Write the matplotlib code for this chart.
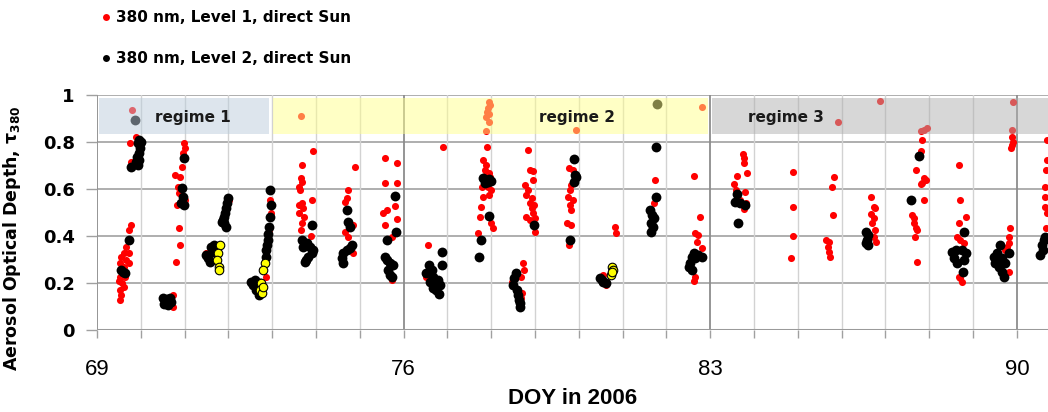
import matplotlib
matplotlib.use("Agg")
import matplotlib.pyplot as plt
from matplotlib.lines import Line2D
from matplotlib.patches import Rectangle
from matplotlib.ticker import MultipleLocator, FixedLocator

# ---------------- data ----------------
# Level 1 (cloud-screened) AOD at 380 nm, direct Sun: day of year and value
doy_l1 = [
    69.78, 69.72, 69.67, 69.61, 69.72, 69.555, 69.67, 69.52, 69.61, 69.72, 69.535, 69.58, 69.52,
    69.555, 69.61, 69.535, 69.63, 69.50, 69.56,
    69.745, 69.78, 69.90, 69.80, 69.86,
    70.73, 70.74,
    70.98, 71.00, 70.96, 70.95, 70.79, 70.886, 70.85, 70.87, 70.825, 70.87, 70.886, 70.81, 71.00,
    71.49, 72.01,
    72.94, 72.92, 72.98, 72.86,
    73.65,
    73.92, 73.67, 73.65, 73.67, 73.60, 73.64, 73.90, 73.60, 73.67, 73.71, 73.62, 73.73, 73.67,
    73.65, 73.88,
    74.89, 74.74, 74.70, 74.66, 74.85, 74.66, 74.74, 74.84,
    75.57, 75.84, 75.57, 75.855, 75.80, 75.61, 75.54, 75.84, 75.57, 75.73, 75.73,
    76.90, 76.56, 76.52,
    77.95, 77.98, 77.92, 77.90, 77.95, 77.885, 77.95, 77.885,
    77.90, 77.82, 77.87, 77.85, 77.885, 77.79, 77.92, 78.00, 77.81, 77.96, 77.77, 78.00, 78.04,
    77.75, 77.695, 77.95, 77.98,
    78.725, 78.74, 78.69, 78.48, 78.71, 78.69,
    78.84, 78.88, 78.95, 78.95, 78.76, 78.84, 78.80, 78.94, 78.88, 78.97, 78.92, 78.80, 78.99,
    78.88, 79.01, 78.95,
    79.93, 79.78, 79.87, 79.83, 79.79, 79.76, 79.87, 79.79, 79.83, 79.73, 79.83, 79.78,
    80.82, 80.85, 80.56, 80.63,
    81.73, 81.71,
    82.82, 82.62, 82.76, 82.66, 82.73, 82.70, 82.81, 82.66, 82.64,
    83.74, 83.77, 83.76, 83.83, 83.62, 83.55, 83.80, 83.59, 83.82, 83.76, 83.68,
    84.88, 84.89, 84.88, 84.84,
    85.91, 85.82, 85.77, 85.80, 85.64, 85.72, 85.68, 85.70, 85.74,
    86.88, 86.68, 86.73, 86.76, 86.67, 86.73, 86.70, 86.76, 86.73, 86.78,
    87.80, 87.94, 87.88, 87.84, 87.82, 87.69, 87.88, 87.92, 87.80, 87.84, 87.88, 87.61, 87.65,
    87.64, 87.69, 87.73, 87.67, 87.71,
    88.67, 88.71, 88.83, 88.67, 88.64, 88.71, 88.79, 88.67, 88.75, 88.71,
    89.92, 89.89, 89.89, 89.91, 89.89, 89.86, 89.85, 89.83, 89.81, 89.77, 89.73, 89.81,
    90.68, 90.68, 90.67, 90.65, 90.65, 90.65, 90.68, 90.67,
]
aod_l1 = [
    0.447, 0.426, 0.355, 0.326, 0.326, 0.312, 0.298, 0.284, 0.270, 0.284, 0.227, 0.199, 0.170,
    0.149, 0.184, 0.128, 0.227, 0.210, 0.260,
    0.794, 0.716, 0.823, 0.936, 0.900,
    0.149, 0.099,
    0.794, 0.773, 0.752, 0.695, 0.660, 0.650, 0.610, 0.582, 0.532, 0.433, 0.362, 0.291, 0.553,
    0.326, 0.553,
    0.553, 0.426, 0.496, 0.227,
    0.910,
    0.763, 0.702, 0.645, 0.631, 0.610, 0.596, 0.553, 0.532, 0.539, 0.518, 0.496, 0.482, 0.454,
    0.426, 0.400,
    0.692, 0.596, 0.560, 0.546, 0.447, 0.418, 0.397, 0.326,
    0.730, 0.712, 0.627, 0.624, 0.528, 0.511, 0.496, 0.471, 0.447, 0.397, 0.213,
    0.777, 0.362, 0.227,
    0.972, 0.957, 0.943, 0.929, 0.919, 0.908, 0.887, 0.848,
    0.780, 0.723, 0.702, 0.681, 0.660, 0.610, 0.610, 0.596, 0.567, 0.574, 0.525, 0.454, 0.433,
    0.482, 0.414, 0.667, 0.652,
    0.284, 0.255, 0.227, 0.206, 0.156, 0.135,
    0.766, 0.681, 0.678, 0.638, 0.617, 0.596, 0.574, 0.560, 0.539, 0.532, 0.518, 0.482, 0.475,
    0.468, 0.418, 0.500,
    0.851, 0.688, 0.681, 0.617, 0.596, 0.567, 0.553, 0.532, 0.511, 0.454, 0.447, 0.362,
    0.440, 0.411, 0.234, 0.191,
    0.638, 0.539,
    0.948, 0.657, 0.479, 0.411, 0.404, 0.376, 0.348, 0.227, 0.210,
    0.749, 0.730, 0.712, 0.670, 0.655, 0.621, 0.589, 0.596, 0.539, 0.513, 0.553,
    0.671, 0.522, 0.400, 0.305,
    0.887, 0.652, 0.610, 0.489, 0.383, 0.376, 0.355, 0.333, 0.312,
    0.976, 0.567, 0.522, 0.518, 0.494, 0.475, 0.454, 0.426, 0.397, 0.376,
    0.848, 0.858, 0.852, 0.809, 0.763, 0.681, 0.645, 0.638, 0.621, 0.627, 0.553, 0.489, 0.475,
    0.454, 0.433, 0.426, 0.397, 0.291,
    0.702, 0.553, 0.482, 0.454, 0.397, 0.383, 0.369, 0.227, 0.206, 0.220,
    0.972, 0.851, 0.823, 0.801, 0.787, 0.773, 0.433, 0.397, 0.369, 0.355, 0.340, 0.248,
    0.809, 0.723, 0.681, 0.610, 0.567, 0.525, 0.496, 0.433,
]

# Level 2 (quality-assured) AOD at 380 nm, direct Sun
doy_l2 = [
    69.555, 69.63, 69.72, 69.60,
    69.97, 69.935, 69.99, 69.96, 69.91, 69.97, 69.90, 69.78, 69.935, 70.01, 69.86,
    70.506, 70.58, 70.62, 70.54, 70.66, 70.70, 70.60,
    70.98, 70.95, 70.96, 70.92, 70.98,
    71.53, 71.61, 71.65, 71.49, 71.57, 71.68,
    71.99, 71.97, 71.95, 71.93, 71.91, 71.875, 71.91, 71.95, 71.86,
    72.94, 72.98, 72.94, 72.90, 72.88, 72.86, 72.85, 72.52, 72.56, 72.635, 72.70, 72.60, 72.71,
    72.92, 72.90,
    73.67, 73.79, 73.86, 73.90, 73.825, 73.77, 73.75, 73.90, 73.71, 73.94,
    74.70, 74.74, 74.775, 74.81, 74.775, 74.70, 74.62, 74.585, 74.62,
    75.80, 75.825, 75.61, 75.57, 75.61, 75.69, 75.76, 75.65, 75.69, 75.73,
    76.88, 76.87, 76.59, 76.52, 76.64, 76.68, 76.60, 76.71, 76.79, 76.83, 76.75, 76.81, 76.66,
    77.81, 77.885, 77.96, 78.00, 77.85, 77.92, 77.96, 77.77, 77.73,
    78.57, 78.53, 78.50, 78.59, 78.61, 78.63, 78.65, 78.66,
    78.97,
    79.89, 79.91, 79.93, 79.89, 79.79,
    80.48, 80.52, 80.56, 80.63,
    81.77, 81.75, 81.62, 81.67, 81.71, 81.64, 81.70, 81.65, 81.79,
    82.62, 82.58, 82.73, 82.81, 82.545, 82.51, 82.58, 82.66,
    83.61, 83.57, 83.68, 83.80, 83.64,
    86.55, 86.59, 86.58, 86.55, 86.59,
    87.765, 87.58,
    88.80, 88.52, 88.60, 88.75, 88.83, 88.56, 88.64, 88.79, 88.77,
    89.62, 89.545, 89.47, 89.66, 89.81, 89.51, 89.58, 89.73, 89.66, 89.70, 89.62,
    90.53, 90.57, 90.61, 90.65, 90.59,
]
aod_l2 = [
    0.255, 0.241, 0.383, 0.248,
    0.809, 0.794, 0.773, 0.752, 0.738, 0.723, 0.716, 0.692, 0.702, 0.800, 0.894,
    0.135, 0.120, 0.106, 0.110, 0.135, 0.120, 0.130,
    0.730, 0.603, 0.567, 0.539, 0.532,
    0.305, 0.355, 0.333, 0.319, 0.291, 0.360,
    0.560, 0.539, 0.518, 0.496, 0.482, 0.468, 0.454, 0.440, 0.461,
    0.596, 0.532, 0.482, 0.383, 0.362, 0.340, 0.312, 0.206, 0.191, 0.170, 0.149, 0.213, 0.199,
    0.440, 0.410,
    0.383, 0.369, 0.355, 0.326, 0.312, 0.298, 0.291, 0.447, 0.355, 0.340,
    0.511, 0.461, 0.440, 0.362, 0.348, 0.340, 0.326, 0.305, 0.284,
    0.570, 0.418, 0.383, 0.312, 0.298, 0.284, 0.277, 0.255, 0.234, 0.227,
    0.333, 0.277, 0.277, 0.241, 0.255, 0.227, 0.206, 0.199, 0.213, 0.191, 0.170, 0.153, 0.177,
    0.645, 0.638, 0.641, 0.635, 0.627, 0.631, 0.485, 0.383, 0.312,
    0.241, 0.220, 0.191, 0.170, 0.149, 0.128, 0.113, 0.096,
    0.447,
    0.728, 0.660, 0.650, 0.631, 0.383,
    0.220, 0.213, 0.206, 0.199,
    0.777, 0.565, 0.511, 0.489, 0.475, 0.454, 0.440, 0.418, 0.962,
    0.326, 0.312, 0.319, 0.312, 0.284, 0.270, 0.255, 0.305,
    0.579, 0.546, 0.539, 0.532, 0.457,
    0.418, 0.404, 0.383, 0.369, 0.362,
    0.742, 0.553,
    0.418, 0.333, 0.340, 0.340, 0.326, 0.305, 0.284, 0.298, 0.248,
    0.362, 0.326, 0.312, 0.305, 0.326, 0.284, 0.270, 0.284, 0.248, 0.227, 0.277,
    0.319, 0.362, 0.383, 0.397, 0.340,
]

# Highlighted Level 2 points
doy_hl = [71.81, 71.76, 71.74, 71.78, 71.79,
          72.83, 72.79, 72.75, 72.73, 72.77, 72.79,
          80.75, 80.77, 80.73, 80.76]
aod_hl = [0.362, 0.326, 0.298, 0.270, 0.255,
          0.284, 0.255, 0.199, 0.170, 0.156, 0.184,
          0.270, 0.255, 0.234, 0.248]

# Aerosol regimes (start / end day of year)
regime_names = ["regime 1", "regime 2", "regime 3"]
regime_start = [69.05, 73.02, 83.04]
regime_end = [72.93, 82.95, 91.0]
regime_label_x = [71.2, 79.95, 84.73]

series_labels = ["380 nm, Level 1, direct Sun", "380 nm, Level 2, direct Sun"]
x_major = [69, 76, 83, 90]
y_ticks = [0, 0.2, 0.4, 0.6, 0.8, 1]
y_ticklabels = ["0", "0.2", "0.4", "0.6", "0.8", "1"]

# ---------------- figure ----------------
W, H = 1048, 412
fig = plt.figure(figsize=(W / 100, H / 100), dpi=100)
ax = fig.add_axes([97 / W, 82 / H, 951 / W, 235 / H])
ax.set_xlim(69, 90.71)
ax.set_ylim(0, 1)

for s in ax.spines.values():
    s.set_visible(False)

# grid
for y in y_ticks[1:]:
    ax.axhline(y, color="#a8a8a8", lw=1.3, zorder=0)
for d in range(69, 91):
    major = d in x_major
    ax.axvline(d, color="#8c8c8c" if major else "#d2d2d2", lw=1.3 if major else 1.0, zorder=0)
ax.axhline(0, color="#9a9a9a", lw=2.2, zorder=0.5)

ax.xaxis.set_major_locator(FixedLocator(x_major))
ax.xaxis.set_minor_locator(MultipleLocator(1))
ax.set_yticks(y_ticks)
ax.set_yticklabels(y_ticklabels)
ax.tick_params(axis="x", which="both", direction="out", length=6, width=1, color="#a0a0a0",
               pad=15, labelsize=16)
ax.tick_params(axis="y", direction="out", length=8, width=1, color="#a0a0a0", pad=8,
               labelsize=13)
for lbl in ax.get_yticklabels():
    lbl.set_fontweight("bold")
for lbl in ax.get_xticklabels():
    lbl.set_family("Liberation Sans")

# data
sc1 = ax.scatter(doy_l1, aod_l1, s=26, color="#ff0000", linewidths=0, zorder=2)
sc2 = ax.scatter(doy_l2, aod_l2, s=50, color="#000000", linewidths=0, zorder=3)
sc3 = ax.scatter(doy_hl, aod_hl, s=38, color="#ffff00", edgecolors="#000000", linewidths=0.8,
                 zorder=4)

# regime bands
band_colors = ["#bccddc", "#ffff8c", "#b0b0b0"]
for name, x0, x1, xl, c in zip(regime_names, regime_start, regime_end, regime_label_x, band_colors):
    ax.add_patch(Rectangle((x0, 0.833), x1 - x0, 0.154, facecolor=c, edgecolor="none",
                           alpha=0.5, zorder=5, clip_on=True))
    ax.text(xl, 0.906, name, ha="center", va="center", fontsize=11, fontweight="bold",
            color="#1a1a1a", zorder=6)

ax.set_xlabel("DOY in 2006", fontsize=16, fontweight="bold", labelpad=6,
              family="Liberation Sans")
ax.set_ylabel(r"Aerosol Optical Depth, $\mathbf{\tau}_{\mathbf{380}}$", fontsize=12.5,
              fontweight="bold")
ax.yaxis.set_label_coords(-0.078, 0.39)

# legend above the plot
handles = [Line2D([], [], ls="none", marker="o", ms=5, mfc="#ff0000", mec="none"),
           Line2D([], [], ls="none", marker="o", ms=5, mfc="#000000", mec="none")]
fig.legend(handles, series_labels, loc="upper left", bbox_to_anchor=(101 / W, 1 - 10 / H),
           frameon=False, prop={"size": 11, "weight": "bold"}, labelspacing=1.7,
           handlelength=0.6, handletextpad=0.4, borderpad=0, borderaxespad=0)

fig.savefig("out.png", dpi=100)
